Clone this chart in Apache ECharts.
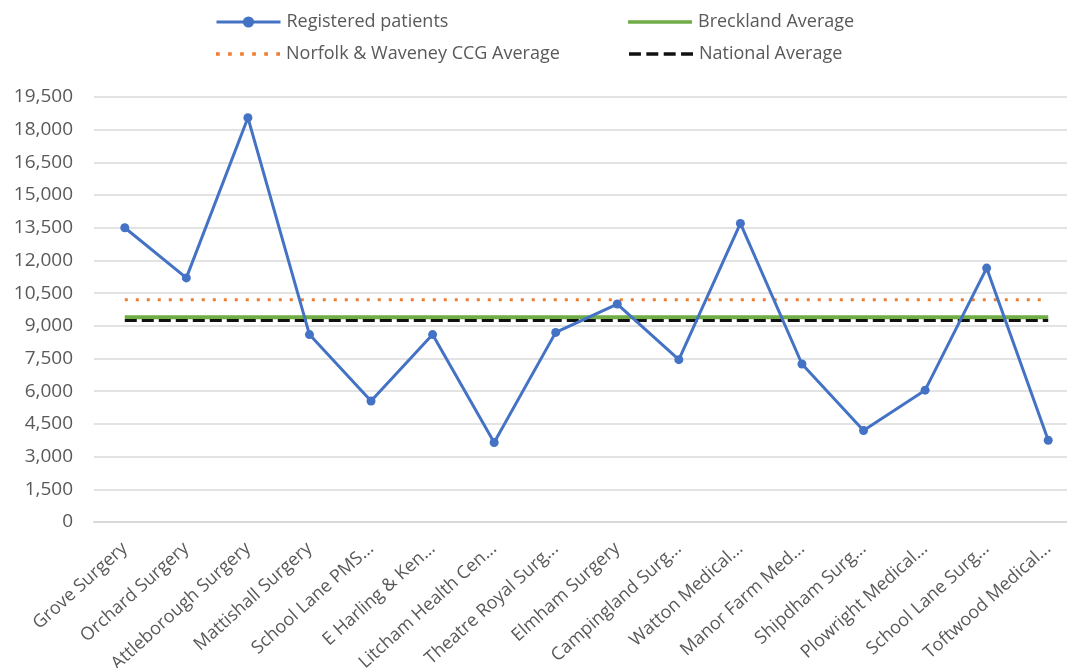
<!DOCTYPE html>
<html>
<head>
<meta charset="utf-8">
<script src="https://cdn.jsdelivr.net/npm/echarts@6/dist/echarts.min.js"></script>
<style>
  html, body { margin: 0; padding: 0; background: #fff; }
  #chart { width: 1067px; height: 668px; }
</style>
</head>
<body>
<div id="chart"></div>
<script>
// Practices in Breckland and their registered list sizes
const practices = [
  'Grove Surgery', 'Orchard Surgery', 'Attleborough Surgery', 'Mattishall Surgery',
  'School Lane PMS...', 'E Harling & Ken...', 'Litcham Health Cen...', 'Theatre Royal Surg...',
  'Elmham Surgery', 'Campingland Surg...', 'Watton Medical...', 'Manor Farm Med...',
  'Shipdham Surg...', 'Plowright Medical...', 'School Lane Surg...', 'Toftwood Medical...'
];
const registeredPatients = [13500, 11200, 18550, 8600, 5550, 8600, 3650, 8700,
                            10000, 7450, 13700, 7250, 4200, 6050, 11650, 3750];
const brecklandAverage = 9400;
const ccgAverage = 10200;
const nationalAverage = 9250;

const yMin = 0, yMax = 19500, yStep = 1500;

const flat = v => practices.map(() => v);
const FONT = '"Open Sans", Lato, sans-serif';
const TEXT = '#595959';

// Legend swatches drawn as simple shapes (solid bar, dotted row, dashed row)
const ICON_SOLID = 'path://M0,0H62V3.5H0Z';
const ICON_DOTS = 'path://' + [0, 11, 22, 33, 44, 55].map(x => `M${x},0h3.4v3.4h-3.4Z`).join('');
const ICON_DASH = 'path://' + [0, 16, 32, 48].map(x => `M${x},0h11v3.4h-11Z`).join('');

const chart = echarts.init(document.getElementById('chart'));

function legendAt(item, left, top) {
  return {
    data: [item], left: left, top: top, orient: 'horizontal',
    itemWidth: 64, itemHeight: 14, itemGap: 0, padding: 0,
    lineStyle: { width: 3 },
    textStyle: { fontFamily: FONT, fontSize: 18, color: TEXT, padding: [0, 0, 0, 1] }
  };
}

chart.setOption({
  animation: false,
  backgroundColor: '#fff',
  legend: [
    legendAt({ name: 'Registered patients' }, 215, 13),
    legendAt({ name: 'Breckland Average', icon: ICON_SOLID }, 628, 13),
    legendAt({ name: 'Norfolk & Waveney CCG Average', icon: ICON_DOTS }, 216, 45),
    legendAt({ name: 'National Average', icon: ICON_DASH }, 629, 45)
  ],
  grid: { left: 94, top: 97, right: -12, bottom: 146, containLabel: false, outerBoundsMode: 'none' },
  xAxis: {
    type: 'category',
    data: practices,
    boundaryGap: true,
    axisLine: { show: true, lineStyle: { color: '#d9d9d9', width: 2 } },
    axisTick: { show: false },
    axisLabel: {
      rotate: 42, interval: 0, margin: 24,
      fontFamily: FONT, fontSize: 18, color: TEXT
    }
  },
  yAxis: {
    type: 'value',
    min: yMin, max: yMax, interval: yStep,
    axisLine: { show: false },
    axisTick: { show: false },
    splitLine: { lineStyle: { color: '#e3e3e3', width: 2 } },
    axisLabel: {
      margin: 21,
      fontFamily: FONT, fontSize: 19, color: TEXT,
      formatter: v => v.toLocaleString('en-GB')
    }
  },
  series: [
    {
      name: 'Registered patients', type: 'line', data: registeredPatients,
      symbol: 'circle', symbolSize: 9, z: 5,
      lineStyle: { color: '#4472C4', width: 3 },
      itemStyle: { color: '#4472C4' }
    },
    {
      name: 'Breckland Average', type: 'line', data: flat(brecklandAverage),
      symbol: 'none', z: 3,
      lineStyle: { color: '#70AD47', width: 4 },
      itemStyle: { color: '#70AD47' }
    },
    {
      name: 'Norfolk & Waveney CCG Average', type: 'line', data: flat(ccgAverage),
      symbol: 'none', z: 3,
      lineStyle: { color: '#ED7D31', width: 3, type: [3, 8] },
      itemStyle: { color: '#ED7D31' }
    },
    {
      name: 'National Average', type: 'line', data: flat(nationalAverage),
      symbol: 'none', z: 4,
      lineStyle: { color: '#111', width: 3, type: [12, 5] },
      itemStyle: { color: '#111' }
    }
  ]
});
</script>
</body>
</html>
